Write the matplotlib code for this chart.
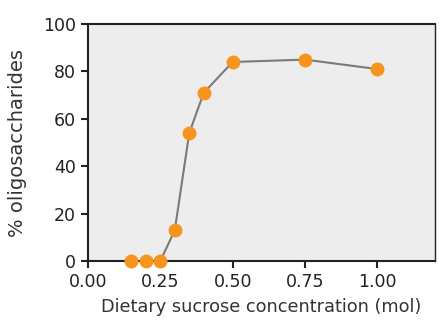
import matplotlib
matplotlib.use("Agg")
import matplotlib.pyplot as plt

sucrose = [0.15, 0.20, 0.25, 0.30, 0.35, 0.40, 0.50, 0.75, 1.00]
oligo = [0, 0, 0, 13, 54, 71, 84, 85, 81]
xticks = [0.00, 0.25, 0.50, 0.75, 1.00]
xticklabels = ["0.00", "0.25", "0.50", "0.75", "1.00"]
yticks = [0, 20, 40, 60, 80, 100]

fig = plt.figure(figsize=(4.4, 3.21), dpi=100)
ax = fig.add_axes([0.2, 0.187, 0.789, 0.738])
ax.set_facecolor("#ededed")
ax.plot(sucrose, oligo, color="#7a7a7a", lw=1.5, zorder=2, clip_on=False)
ax.plot(sucrose, oligo, "o", color="#f7941d", ms=9, mec="#f7941d", zorder=3, clip_on=False)
ax.set_xlim(0, 1.2)
ax.set_ylim(0, 100)
ax.set_xticks(xticks)
ax.set_xticklabels(xticklabels)
ax.set_yticks(yticks)
ax.tick_params(axis="both", labelsize=12.5, colors="#222222", length=5, width=1.5, direction="out")
for s in ax.spines.values():
    s.set_color("#222222")
ax.spines["left"].set_linewidth(1.5)
ax.spines["bottom"].set_linewidth(1.5)
ax.spines["top"].set_linewidth(1.5)
ax.spines["right"].set_linewidth(1.0)
ax.set_xlabel("Dietary sucrose concentration (mol)", fontsize=12.8, color="#333333", labelpad=5)
ax.set_ylabel("% oligosaccharides", fontsize=14, color="#333333", labelpad=12)
fig.savefig("out.png", dpi=100, facecolor="white")
